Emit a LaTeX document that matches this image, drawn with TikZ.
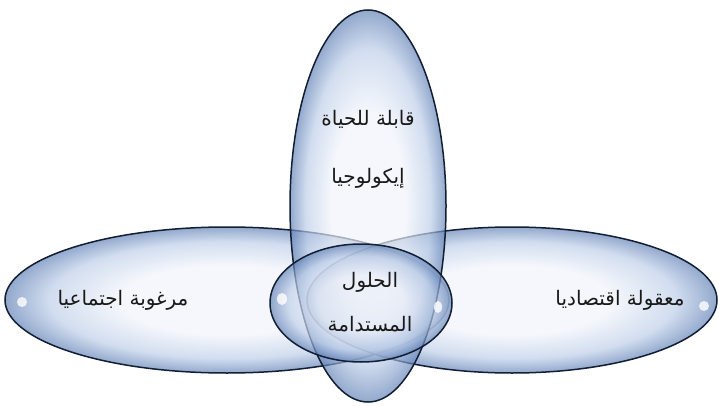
\documentclass[tikz,border=0pt]{standalone}
\usepackage{fontspec}
\TeXXeTstate=1
\newfontfamily\arabicfont[Script=Arabic]{DejaVu Sans}
\definecolor{gin}{HTML}{F0F3FA}
\definecolor{gmid}{HTML}{BCCDE8}
\definecolor{gout}{HTML}{5F80B5}
\definecolor{edge}{HTML}{121E33}
\pgfdeclareradialshading{glass}{\pgfpoint{0bp}{0bp}}{color(0bp)=(gin); color(12bp)=(gin); color(20bp)=(gmid); color(25bp)=(gout); color(50bp)=(gout)}
\tikzset{
  bubble/.style={shading=glass, fill opacity=0.68, draw=edge, draw opacity=1, line width=1.5pt},
  shine/.style={fill=white, fill opacity=0.8, draw=none},
  lbl/.style={font=\arabicfont\fontsize{20}{24}\selectfont, text=black!90, inner sep=1pt}
}
\begin{document}
\begin{tikzpicture}[x=1pt,y=-1pt]
\useasboundingbox (0,0) rectangle (719,406);
% horizontal ellipses
\shade[bubble] (227,300) ellipse [x radius=222, y radius=73];
\shade[bubble] (512,300) ellipse [x radius=205, y radius=73];
% vertical ellipse
\shade[bubble] (368,206) ellipse [x radius=78, y radius=196];
% central ellipse
\shade[bubble] (361,303) ellipse [x radius=91, y radius=59];
% highlights
\fill[shine] (22,302) ellipse [x radius=5, y radius=5];
\fill[shine] (704,306) ellipse [x radius=5, y radius=5];
\fill[shine] (282,299) ellipse [x radius=5, y radius=6];
\fill[shine] (438,307) ellipse [x radius=4, y radius=6];
% labels
\node[lbl] (eco1) at (368,119) {\beginR قابلة للحياة\endR};
\node[lbl] (eco2) at (368,178) {\beginR إيكولوجيا\endR};
\node[lbl] (sus1) at (370,282) {\beginR الحلول\endR};
\node[lbl] (sus2) at (370,324) {\beginR المستدامة\endR};
\node[lbl] (soc) at (123,300) {\beginR مرغوبة اجتماعيا\endR};
\node[lbl] (eco) at (620,300) {\beginR معقولة اقتصاديا\endR};
\end{tikzpicture}
\end{document}
